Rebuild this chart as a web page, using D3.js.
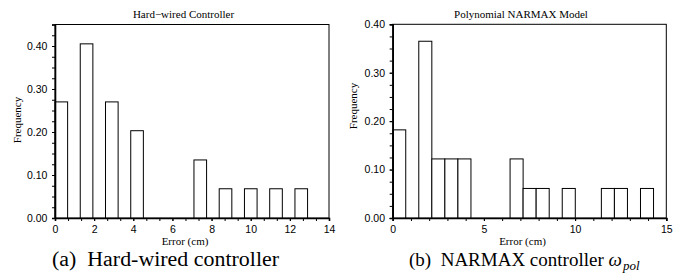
<!DOCTYPE html>
<html><head><meta charset="utf-8">
<script src="https://cdn.jsdelivr.net/npm/d3@7"></script>
<style>
body{margin:0;background:#fff;}
svg{display:block;}
.tick text{font-family:"Liberation Sans",Arial,sans-serif;font-size:10.5px;fill:#000;}
.serif{font-family:"Liberation Serif","Times New Roman",serif;fill:#000;}
</style></head>
<body>
<svg id="c" width="692" height="273"></svg>
<script>
// ---- data ----
const leftTitle = "Hard\u2212wired Controller";
const leftBinStart = [0, 1.29, 2.58, 3.87, 7.10, 8.39, 9.68, 10.97, 12.26];
const leftFreq = [0.270, 0.405, 0.270, 0.203, 0.135, 0.068, 0.068, 0.068, 0.068];
const leftBinWidth = 0.645;
const leftXTicks = [0, 2, 4, 6, 8, 10, 12, 14];
const leftYTicks = [0, 0.1, 0.2, 0.3, 0.4];

const rightTitle = "Polynomial NARMAX Model";
const rightBinStart = [0, 1.43, 2.145, 2.86, 3.575, 6.435, 7.15, 7.865, 9.295, 11.44, 12.155, 13.585];
const rightFreq = [0.182, 0.365, 0.122, 0.122, 0.122, 0.122, 0.061, 0.061, 0.061, 0.061, 0.061, 0.061];
const rightBinWidth = 0.715;
const rightXTicks = [0, 5, 10, 15];
const rightYTicks = [0, 0.1, 0.2, 0.3, 0.4];

const svg = d3.select("#c");

function panel(cfg){
  const g = svg.append("g");
  const x = d3.scaleLinear().domain(cfg.xDomain).range([cfg.left, cfg.right]);
  const y = d3.scaleLinear().domain(cfg.yDomain).range([cfg.bottom, cfg.top]);

  g.append("rect").attr("x", cfg.left).attr("y", cfg.top)
    .attr("width", cfg.right - cfg.left).attr("height", cfg.bottom - cfg.top)
    .attr("fill", "none").attr("stroke", "#000").attr("stroke-width", 1);

  g.selectAll("rect.bar").data(cfg.starts.map((s, i) => ({s, f: cfg.freq[i]})))
    .enter().append("rect").attr("class", "bar")
    .attr("x", d => x(d.s)).attr("width", d => x(d.s + cfg.bw) - x(d.s))
    .attr("y", d => y(d.f)).attr("height", d => y(0) - y(d.f))
    .attr("fill", "#fff").attr("stroke", "#000").attr("stroke-width", 1);

  g.append("g").attr("transform", `translate(0,${cfg.bottom})`)
    .call(d3.axisBottom(x).tickValues(cfg.xMinor).tickSize(3).tickFormat(""))
    .call(a => a.select(".domain").remove());
  g.append("g").attr("transform", `translate(${cfg.left},0)`)
    .call(d3.axisLeft(y).tickValues(cfg.yMinor).tickSize(3).tickFormat(""))
    .call(a => a.select(".domain").remove());

  g.append("g").attr("transform", `translate(0,${cfg.bottom})`)
    .call(d3.axisBottom(x).tickValues(cfg.xTicks).tickSize(3).tickPadding(5).tickFormat(d3.format("d")))
    .call(a => a.select(".domain").attr("stroke-width", 1.6));
  g.append("g").attr("transform", `translate(${cfg.left},0)`)
    .call(d3.axisLeft(y).tickValues(cfg.yTicks).tickSize(3).tickPadding(4.7).tickFormat(d3.format(".2f")))
    .call(a => a.select(".domain").attr("stroke-width", 1.6));

  const cx = (cfg.left + cfg.right) / 2;
  g.append("text").attr("class", "serif").attr("x", cx - 8.5).attr("y", 18)
    .attr("text-anchor", "middle").style("font-size", "11px").text(cfg.title);
  g.append("text").attr("class", "serif").attr("x", cx - 7).attr("y", 244.5)
    .attr("text-anchor", "middle").style("font-size", "11px").text("Error (cm)");
  g.append("text").attr("class", "serif")
    .attr("transform", `translate(${cfg.ylabX},${cfg.ylabY}) rotate(-90)`)
    .attr("text-anchor", "middle").attr("dy", "0.35em").style("font-size", "11px").text("Frequency");
  return g;
}

panel({left:55, right:329, top:24.5, bottom:218, xDomain:[0,14], yDomain:[0,0.45],
  starts:leftBinStart, freq:leftFreq, bw:leftBinWidth,
  xTicks:leftXTicks, yTicks:leftYTicks,
  xMinor:d3.range(0, 43).map(i => i*2/3).filter(v => v <= 14.001),
  yMinor:d3.range(0, 19).map(i => i*0.025),
  title:leftTitle, ylabX:17.5, ylabY:120});

panel({left:392.7, right:666.3, top:24.3, bottom:218, xDomain:[0,15], yDomain:[0,0.40],
  starts:rightBinStart, freq:rightFreq, bw:rightBinWidth,
  xTicks:rightXTicks, yTicks:rightYTicks,
  xMinor:d3.range(0, 16),
  yMinor:d3.range(0, 17).map(i => i*0.025),
  title:rightTitle, ylabX:353, ylabY:106});

// captions
svg.append("text").attr("class", "serif").attr("x", 52).attr("y", 266)
  .style("font-size", "20px").style("white-space", "pre")
  .attr("textLength", 227).attr("lengthAdjust", "spacingAndGlyphs")
  .text("(a)  Hard-wired controller");
const cb = svg.append("text").attr("class", "serif").attr("x", 409).attr("y", 266)
  .style("font-size", "19px").style("white-space", "pre");
cb.append("tspan").text("(b)  NARMAX controller ");
cb.append("tspan").style("font-style", "italic").text("\u03C9");
cb.append("tspan").style("font-style", "italic").style("font-size", "13px").attr("dx", 1).attr("dy", 4).text("pol");
</script>
</body></html>
